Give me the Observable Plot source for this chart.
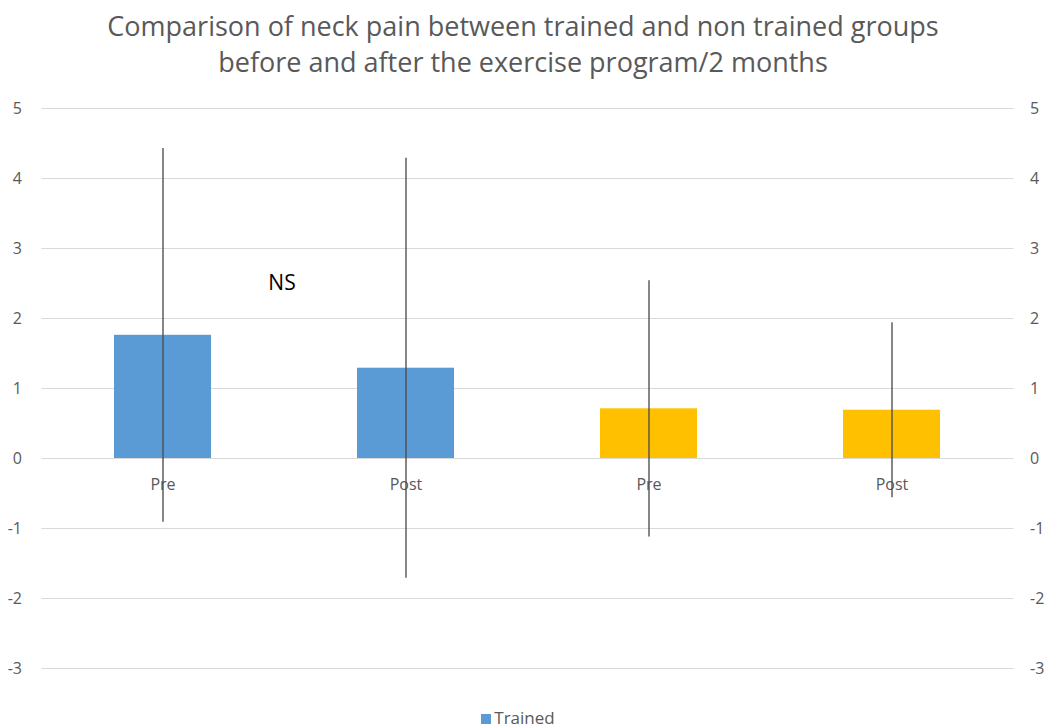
<!DOCTYPE html>
<html>
<head>
<meta charset="utf-8">
<script src="https://cdn.jsdelivr.net/npm/d3@7"></script>
<script src="https://cdn.jsdelivr.net/npm/@observablehq/plot@0.6"></script>
<style>
  html, body { margin: 0; padding: 0; background: #fff; }
  body { width: 1046px; height: 728px; overflow: hidden; font-family: "Open Sans", sans-serif; }
  #title { height: 90px; text-align: center; color: #595959; font-size: 27px; line-height: 36px; padding-top: 8px; box-sizing: border-box; }
  #legend { text-align: center; color: #595959; font-size: 17px; margin-top: 16px; padding-right: 10px; }
  #legend .sw { display: inline-block; width: 10px; height: 10px; background: #5B9BD5; margin-right: 3px; vertical-align: 0px; }
</style>
</head>
<body>
<div id="title">Comparison of neck pain between trained and non trained groups<br>before and after the exercise program/2 months</div>
<div id="chart"></div>
<div id="legend"><span class="sw"></span>Trained</div>
<script>
// Data
const groups = ["Trained", "Trained", "Non trained", "Non trained"];
const phases = ["Pre", "Post", "Pre", "Post"];
const means = [1.76, 1.29, 0.71, 0.69];
const errors = [2.67, 3.0, 1.83, 1.25];
const yTicks = [5, 4, 3, 2, 1, 0, -1, -2, -3];
const groupColors = {"Trained": "#5B9BD5", "Non trained": "#FFC000"};
const annotations = [{key: "Trained|Pre", y: 2.5, label: "NS"}];

const rows = groups.map((g, i) => ({
  key: g + "|" + phases[i],
  group: g,
  phase: phases[i],
  mean: means[i],
  lo: means[i] - errors[i],
  hi: means[i] + errors[i]
}));
const keys = rows.map(d => d.key);

const chart = Plot.plot({
  width: 1046,
  height: 600,
  marginTop: 18,
  marginBottom: 22,
  marginLeft: 41.5,
  marginRight: 32.5,
  style: {fontFamily: "'Open Sans', sans-serif", color: "#595959", background: "#fff"},
  x: {domain: keys, paddingInner: 0.6, paddingOuter: 0.3, axis: null},
  y: {domain: [-3, 5], axis: null},
  marks: [
    Plot.ruleY(yTicks, {stroke: "#d9d9d9", strokeWidth: 1}),
    Plot.axisY(yTicks, {anchor: "left", tickSize: 0, tickPadding: 20, fontSize: 16, fill: "#595959", tickFormat: d => String(d)}),
    Plot.axisY(yTicks, {anchor: "right", tickSize: 0, tickPadding: 16, fontSize: 16, fill: "#595959", tickFormat: d => String(d)}),
    Plot.barY(rows, {x: "key", y1: 0, y2: "mean", fill: d => groupColors[d.group]}),
    Plot.text(rows, {x: "key", y: 0, dy: 26, text: "phase", fontSize: 16, fill: "#595959"}),
    Plot.ruleX(rows, {x: "key", y1: "lo", y2: "hi", stroke: "#4d4d4d", strokeWidth: 1.5, strokeOpacity: 0.9}),
    Plot.text(annotations, {x: "key", y: "y", dx: 119, text: "label", fontSize: 21, fill: "#000"})
  ]
});
document.getElementById("chart").appendChild(chart);
</script>
</body>
</html>
